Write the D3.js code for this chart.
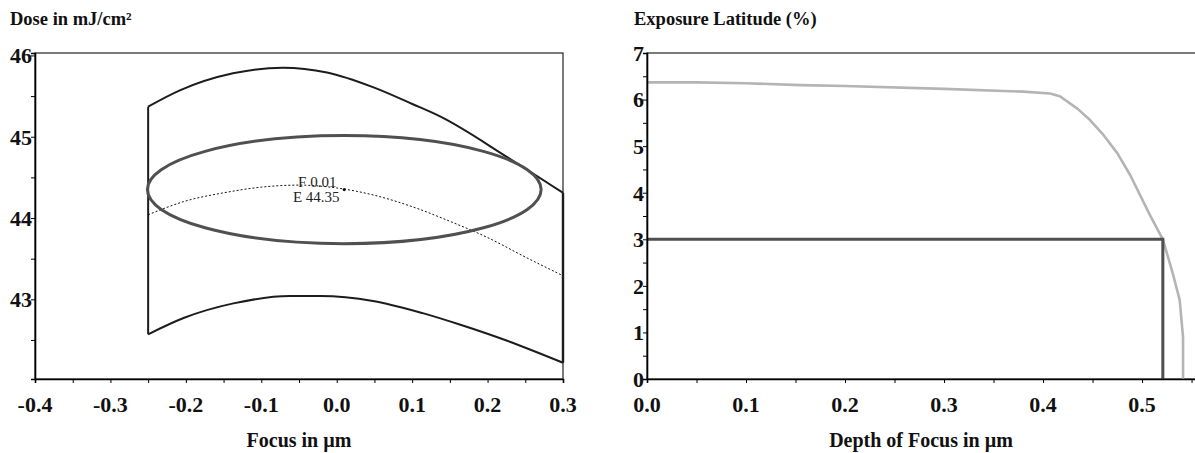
<!DOCTYPE html>
<html>
<head>
<meta charset="utf-8">
<script src="https://cdn.jsdelivr.net/npm/d3@7"></script>
<style>
  body { margin: 0; background: #fff; }
</style>
</head>
<body>
<svg id="chart" width="1195" height="453"></svg>
<script>
// ---- left chart: process window (dose vs focus)
const focusTicks = [-0.4, -0.3, -0.2, -0.1, 0.0, 0.1, 0.2, 0.3];
const doseTicks = [43, 44, 45, 46];

const upperFocus = [-0.25, -0.208, -0.1375, -0.0712, -0.0129, 0.048, 0.101, 0.137, 0.226, 0.3];
const upperDose  = [45.37, 45.57, 45.78, 45.85, 45.79, 45.61, 45.40, 45.25, 44.75, 44.31];

const lowerFocus = [-0.25, -0.203, -0.137, -0.062, -0.022, 0.048, 0.114, 0.163, 0.226, 0.3];
const lowerDose  = [42.57, 42.77, 42.95, 43.04, 43.04, 42.98, 42.83, 42.69, 42.49, 42.22];

const bestFocus = [-0.25, -0.2, -0.15, -0.1, -0.05, 0.0, 0.05, 0.1, 0.15, 0.2, 0.25, 0.3];
const bestDose  = [44.04, 44.21, 44.31, 44.38, 44.405, 44.37, 44.28, 44.14, 43.96, 43.76, 43.52, 43.29];

const ellipseCenter = [0.01, 44.35];      // F, E
const ellipseHalf = [0.261, 0.665];       // half focus range, half dose range

// ---- right chart: exposure latitude vs depth of focus
const dofTicks = [0.0, 0.1, 0.2, 0.3, 0.4, 0.5];
const elTicks = [0, 1, 2, 3, 4, 5, 6, 7];

const dofValues = [0, 0.05, 0.1, 0.155, 0.2, 0.3, 0.38, 0.407, 0.417, 0.435, 0.4475, 0.461, 0.475, 0.488, 0.508, 0.521, 0.531, 0.538, 0.5414, 0.5414];
const elValues  = [6.37, 6.37, 6.35, 6.31, 6.29, 6.23, 6.17, 6.13, 6.07, 5.8, 5.56, 5.24, 4.85, 4.38, 3.52, 3.0, 2.27, 1.7, 0.9, 0];

const elLimit = 3;
const dofAtLimit = 0.521;

const FONT = "'Liberation Serif', 'DejaVu Serif', serif";
const svg = d3.select("#chart").attr("font-family", FONT);
const plotTop = 53, plotBottom = 379;

// ================= left chart
const xL = d3.scaleLinear().domain([-0.4, 0.3]).range([35, 563]);
const yL = d3.scaleLinear().domain([42.02, 46.03]).range([plotBottom, plotTop]);

const left = svg.append("g");

left.append("rect")
    .attr("x", xL.range()[0]).attr("y", plotTop)
    .attr("width", xL.range()[1] - xL.range()[0]).attr("height", plotBottom - plotTop)
    .attr("fill", "none").attr("stroke", "#333").attr("stroke-width", 1.3);

const line = d3.line().x(d => xL(d[0])).y(d => yL(d[1])).curve(d3.curveMonotoneX);
const upper = upperFocus.map((f, i) => [f, upperDose[i]]);
const lower = lowerFocus.map((f, i) => [f, lowerDose[i]]);
const best = bestFocus.map((f, i) => [f, bestDose[i]]);

const windowStyle = sel => sel.attr("fill", "none").attr("stroke", "#1c1c1c").attr("stroke-width", 2);

left.append("path").attr("d", line(upper)).call(windowStyle);
left.append("path").attr("d", line(lower)).call(windowStyle);
left.append("path")
    .attr("d", d3.line()([[xL(upper[0][0]), yL(upper[0][1])], [xL(lower[0][0]), yL(lower[0][1])]]))
    .call(windowStyle);
left.append("path")
    .attr("d", d3.line()([[xL(upper[upper.length - 1][0]), yL(upper[upper.length - 1][1])],
                          [xL(lower[lower.length - 1][0]), yL(lower[lower.length - 1][1])]]))
    .call(windowStyle).attr("stroke-width", 2.4);

left.append("path")
    .attr("d", line(best))
    .attr("fill", "none").attr("stroke", "#111").attr("stroke-width", 1)
    .attr("stroke-dasharray", "2,2");

left.append("ellipse")
    .attr("cx", xL(ellipseCenter[0])).attr("cy", yL(ellipseCenter[1]))
    .attr("rx", xL(ellipseCenter[0] + ellipseHalf[0]) - xL(ellipseCenter[0]))
    .attr("ry", yL(ellipseCenter[1]) - yL(ellipseCenter[1] + ellipseHalf[1]))
    .attr("fill", "none").attr("stroke", "#505050").attr("stroke-width", 3);

left.append("circle")
    .attr("cx", xL(ellipseCenter[0])).attr("cy", yL(ellipseCenter[1]))
    .attr("r", 1.6).attr("fill", "#111");

left.append("text")
    .attr("x", xL(ellipseCenter[0]) - 27).attr("y", yL(ellipseCenter[1]) - 2.5)
    .attr("text-anchor", "middle").style("font-size", "15px").attr("fill", "#222")
    .text(`F ${ellipseCenter[0].toFixed(2)}`);
left.append("text")
    .attr("x", xL(ellipseCenter[0]) - 28).attr("y", yL(ellipseCenter[1]) + 12.5)
    .attr("text-anchor", "middle").style("font-size", "15px").attr("fill", "#222")
    .text(`E ${ellipseCenter[1].toFixed(2)}`);

// axes
function drawAxes(g, x, y, xTicks, yTicks, xMinor, yMinor, xFmt, yFmt) {
    g.append("g").attr("transform", `translate(0,${plotBottom})`)
        .call(d3.axisBottom(x).tickValues(xMinor).tickSize(4).tickFormat(""))
        .call(a => a.select(".domain").attr("stroke", "#000").attr("stroke-width", 1.6));
    g.append("g").attr("transform", `translate(${x.range()[0]},0)`)
        .call(d3.axisLeft(y).tickValues(yMinor).tickSize(4).tickFormat(""))
        .call(a => a.select(".domain").attr("stroke", "#000").attr("stroke-width", 1.6));

    g.selectAll(null).data(xTicks).enter().append("text")
        .attr("x", d => x(d)).attr("y", 412)
        .attr("text-anchor", "middle").attr("fill", "#111")
        .style("font-size", "22px").style("font-weight", "bold")
        .text(xFmt);
    g.selectAll(null).data(yTicks).enter().append("text")
        .attr("x", x.range()[0] - 3).attr("y", d => y(d)).attr("dy", "0.36em")
        .attr("text-anchor", "end").attr("fill", "#111")
        .style("font-size", "22px").style("font-weight", "bold")
        .text(yFmt);
}

drawAxes(left, xL, yL, focusTicks, doseTicks,
    d3.range(-0.4, 0.3001, 0.05), d3.range(42.5, 46.01, 0.5),
    d => d.toFixed(1), d => d);

left.append("text").attr("x", 10).attr("y", 25).attr("fill", "#111")
    .style("font-size", "18.5px").style("font-weight", "bold")
    .text("Dose in mJ/cm²");
left.append("text").attr("x", d3.mean(xL.range())).attr("y", 447)
    .attr("text-anchor", "middle").attr("fill", "#111")
    .style("font-size", "20px").style("font-weight", "bold")
    .text("Focus in µm");

// ================= right chart
const xR = d3.scaleLinear().domain([0, 0.555]).range([647, 1196.5]);
const yR = d3.scaleLinear().domain([0, 7]).range([plotBottom, plotTop]);

const right = svg.append("g");

right.append("rect")
    .attr("x", xR.range()[0]).attr("y", plotTop)
    .attr("width", xR.range()[1] - xR.range()[0]).attr("height", plotBottom - plotTop)
    .attr("fill", "none").attr("stroke", "#333").attr("stroke-width", 1.3);

const latLine = d3.line().x(d => xR(d[0])).y(d => yR(d[1]));

right.append("path")
    .attr("d", latLine(dofValues.map((v, i) => [v, elValues[i]])))
    .attr("fill", "none").attr("stroke", "#b4b4b4").attr("stroke-width", 2.6)
    .attr("stroke-linejoin", "round");

right.append("path")
    .attr("d", latLine([[0, elLimit], [dofAtLimit, elLimit], [dofAtLimit, 0]]))
    .attr("fill", "none").attr("stroke", "#4f4f4f").attr("stroke-width", 3);

drawAxes(right, xR, yR, dofTicks, elTicks,
    d3.range(0, 0.5501, 0.05), d3.range(0, 7.01, 0.5),
    d => d.toFixed(1), d => d);

right.append("text").attr("x", 634).attr("y", 25).attr("fill", "#111")
    .style("font-size", "18.5px").style("font-weight", "bold")
    .text("Exposure Latitude (%)");
right.append("text").attr("x", d3.mean([647, 1195])).attr("y", 447)
    .attr("text-anchor", "middle").attr("fill", "#111")
    .style("font-size", "20px").style("font-weight", "bold")
    .text("Depth of Focus in µm");
</script>
</body>
</html>
